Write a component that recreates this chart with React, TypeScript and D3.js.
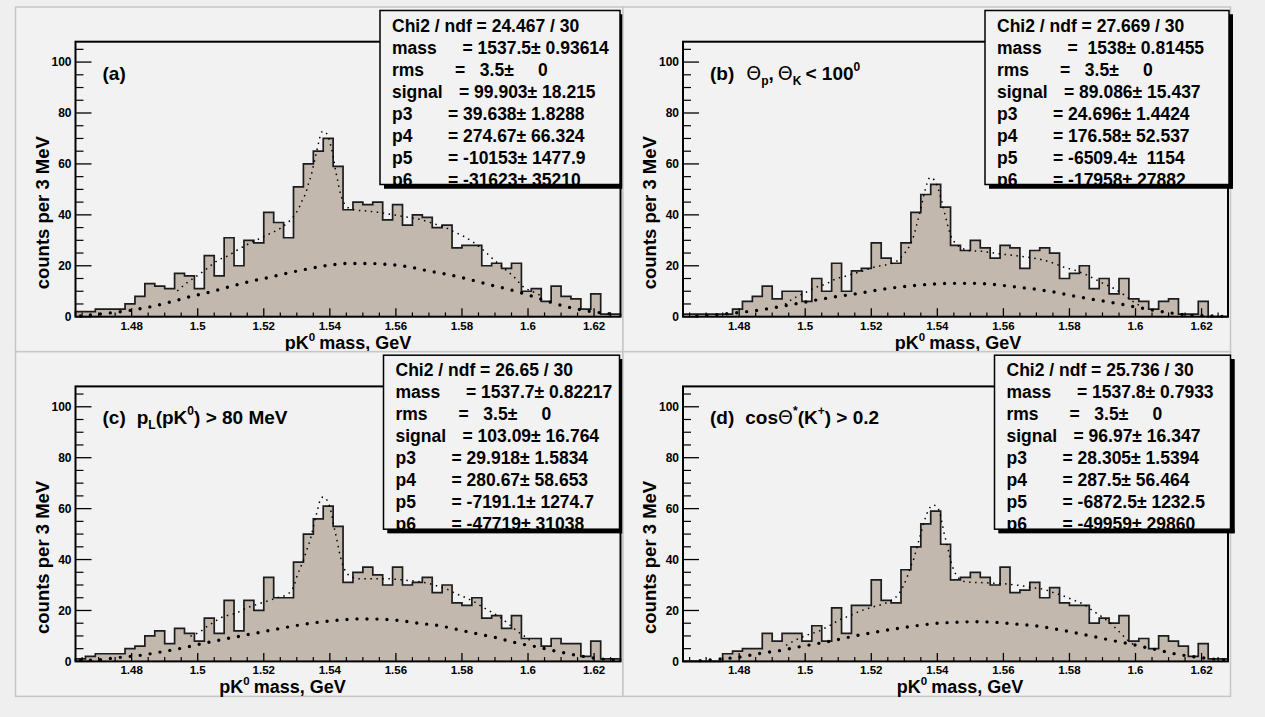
import * as d3 from 'd3'

// histogram binning (3 MeV bins) and axis ranges
const BIN_LO = 1.463
const BIN_W = 0.003
const X_MAX = 1.628
const Y_MAX = 108

// counts per bin
const countsA = [2,2,3,3,3,5,8,13,12,11,17,16,11,24,16,31,20,30,29,41,37,31,51,60,65,70,59,42,45,44,45,38,44,36,40,39,35,36,27,28,28,20,21,19,21,10,11,6,12,8,7,3,9,1,1]
const countsB = [1,1,1,1,1,3,6,8,12,7,10,10,6,15,10,21,10,18,19,29,23,21,29,41,48,52,43,28,26,30,27,23,28,27,19,26,27,25,15,17,20,11,15,9,15,7,6,3,6,7,1,1,6,0,0]
const countsC = [1,2,3,3,3,5,6,10,12,7,13,11,8,17,11,24,12,24,20,33,25,25,39,50,56,61,53,31,35,37,34,30,37,30,31,33,27,30,23,22,25,17,18,13,18,9,9,6,9,7,7,2,8,1,1]
const countsD = [0,0,0,0,3,4,5,5,11,8,11,11,8,14,8,21,11,22,22,32,24,23,36,45,54,59,46,32,33,35,33,30,37,27,28,31,25,29,23,22,22,15,17,15,18,8,9,5,10,8,6,2,7,1,1]

// fitted curves: total (fine dots) and background (bold dots), [mass GeV, counts]
const totA = [[1.4938,10.1],[1.4968,13.4],[1.4999,16.1],[1.5029,19],[1.5059,22],[1.509,23.8],[1.512,26.2],[1.5145,28],[1.5175,29.9],[1.521,32.1],[1.5251,34.8],[1.527,36.7],[1.529,39.3],[1.5306,42.6],[1.5317,45.9],[1.5327,48.5],[1.5336,52.5],[1.5344,55.7],[1.5351,59.7],[1.536,64.9],[1.5367,68.9],[1.5375,72.5],[1.5382,72.8],[1.539,72],[1.5397,70],[1.5405,66],[1.5411,62.3],[1.5418,57],[1.5423,53.8],[1.5433,47.9],[1.544,45.5],[1.5448,43.5],[1.5473,42],[1.5503,41.6],[1.5533,41.2],[1.5563,40.7],[1.5594,40],[1.5624,39.3],[1.5654,38.7],[1.5685,37.8],[1.5715,36.5],[1.5745,35.3],[1.5775,33.4],[1.5806,31.5],[1.5836,29.1],[1.5866,26],[1.5897,22.3],[1.5927,19],[1.5957,15.7],[1.5985,11.8],[1.6015,9.8],[1.6045,7.9]]
const bgA = [[1.4645,0.3],[1.4736,1.5],[1.4797,2.5],[1.4857,3.9],[1.4918,5.8],[1.4978,7.9],[1.504,9.8],[1.5097,11.8],[1.5157,13.8],[1.5218,15.5],[1.5278,17.3],[1.5339,18.9],[1.5397,20.2],[1.5457,20.9],[1.5518,20.9],[1.5578,20.5],[1.5639,19.6],[1.5697,18],[1.5757,16.6],[1.5818,14.8],[1.5879,12.7],[1.5939,10.8],[1.5997,8.7],[1.606,6],[1.6118,3.9],[1.6179,2.3],[1.6236,1.3],[1.6275,0.9]]

const totB = [[1.4939,4.9],[1.4969,7.5],[1.4999,9.4],[1.503,11.4],[1.5065,13],[1.5096,15],[1.5124,16],[1.5146,16.9],[1.5168,17.7],[1.5197,19],[1.5222,19.9],[1.5252,20.6],[1.5278,21.9],[1.5298,24.5],[1.5313,27.1],[1.5323,29.8],[1.533,32.4],[1.5338,36.3],[1.5346,40.3],[1.5353,44.2],[1.536,48.1],[1.5368,52],[1.5378,54.7],[1.5391,53.6],[1.5398,52],[1.5406,48.8],[1.5413,45.5],[1.5422,40.9],[1.5429,37],[1.5436,33.7],[1.5444,30.8],[1.5456,28.7],[1.5472,27.1],[1.55,25.9],[1.5525,25.8],[1.556,25.2],[1.5601,24.5],[1.5641,23.9],[1.5682,23.2],[1.5722,22.2],[1.5752,21],[1.5782,19.5],[1.5822,18],[1.5852,16.4],[1.5878,14.7],[1.5908,12.7],[1.5934,11.1],[1.5966,8.5],[1.599,6.2],[1.6015,4.2]]
const bgB = [[1.4672,0.3],[1.4734,0.8],[1.4795,1.6],[1.4855,2.5],[1.4916,3.8],[1.4974,5.1],[1.5035,6.6],[1.5096,7.9],[1.5154,9],[1.5215,10.4],[1.5275,11.5],[1.5336,12.3],[1.5396,12.9],[1.5456,13.1],[1.5517,13.1],[1.5575,12.6],[1.5636,11.7],[1.5697,10.8],[1.5757,9.6],[1.5818,8],[1.5876,6.7],[1.5936,5.4],[1.5997,3.9],[1.6055,2.5],[1.6116,1.3],[1.6176,0.5],[1.6237,0.3],[1.6267,0.1]]

const totC = [[1.4978,9.9],[1.5009,11.8],[1.5029,13.8],[1.5049,15.4],[1.5069,17.1],[1.5089,18],[1.5119,19.1],[1.515,21.1],[1.518,22.4],[1.5211,23.7],[1.5241,25],[1.5271,26.3],[1.5291,29.6],[1.5301,33.6],[1.5311,36.8],[1.5321,40.1],[1.5331,44.1],[1.5341,48],[1.5351,53.3],[1.5361,58.6],[1.5373,64],[1.538,64.6],[1.5387,64.1],[1.5397,61.8],[1.5404,58.6],[1.5412,53.3],[1.542,48.7],[1.5428,43.4],[1.5437,38.8],[1.5447,35.5],[1.5458,33.8],[1.5488,32.5],[1.5518,32.5],[1.5575,32.5],[1.5605,32.2],[1.5635,31.8],[1.5666,31.4],[1.5696,30.7],[1.5726,29.6],[1.5756,28.3],[1.5787,26.3],[1.5812,25],[1.5842,23],[1.5867,21],[1.5893,19.1],[1.5918,17.1],[1.5943,14.5],[1.5968,11.8],[1.5989,9.9],[1.6009,7.9]]
const bgC = [[1.4645,0.4],[1.4706,0.7],[1.4766,1.6],[1.4827,2.4],[1.4888,3.7],[1.4948,5.1],[1.5007,6.8],[1.5067,8.4],[1.5127,9.9],[1.5188,11.4],[1.5248,12.9],[1.5308,14.3],[1.5367,15.4],[1.5428,16.2],[1.5485,16.7],[1.5547,16.6],[1.5608,16.1],[1.5667,15],[1.5728,14.1],[1.5787,12.5],[1.5847,10.8],[1.5908,9.2],[1.5966,7.2],[1.6027,5.7],[1.6088,3.9],[1.6148,2.4],[1.6206,1.2],[1.6267,0.5]]

const totD = [[1.4942,6.3],[1.4974,8.6],[1.5009,10.5],[1.504,11.8],[1.507,13.8],[1.5106,16.4],[1.5136,18],[1.5166,19.7],[1.5197,21.1],[1.5232,22.4],[1.5262,24.1],[1.5282,26.3],[1.5297,29.6],[1.5308,32.9],[1.5318,36.8],[1.533,40.8],[1.5338,44.7],[1.5348,49.3],[1.5358,53.9],[1.5368,57.9],[1.5378,60.5],[1.5388,61.4],[1.5398,60.9],[1.5407,58.6],[1.5414,54.6],[1.5421,50],[1.5429,46.1],[1.5437,41.4],[1.5446,37.2],[1.5456,34.2],[1.5469,32.2],[1.5489,31.2],[1.5519,31],[1.5541,30.9],[1.5571,30.7],[1.5601,30.5],[1.5631,30.1],[1.5661,29.6],[1.5691,28.9],[1.5722,28.3],[1.5752,27],[1.5782,25.7],[1.5812,24.1],[1.5843,22.4],[1.5873,19.7],[1.5903,17.1],[1.5928,14.5],[1.5954,11.2],[1.5974,8.6],[1.5994,6.6]]
const bgD = [[1.4682,0.3],[1.474,0.9],[1.4801,1.7],[1.4861,3.1],[1.4921,4.2],[1.4981,5.7],[1.5042,7.1],[1.51,8.6],[1.5161,10.3],[1.5222,11.7],[1.5282,13],[1.5341,14.1],[1.5402,15],[1.5462,15.4],[1.5523,15.6],[1.5582,15.3],[1.5643,14.6],[1.5702,13.9],[1.5762,12.6],[1.5823,11.1],[1.5882,9.5],[1.5942,7.9],[1.6003,6.3],[1.6062,4.6],[1.6123,2.9],[1.6183,1.7],[1.6244,0.8],[1.6275,0.5]]

// axis ticks
const xTicks = [1.48, 1.5, 1.52, 1.54, 1.56, 1.58, 1.6, 1.62]
const xTickLabels = ['1.48', '1.5', '1.52', '1.54', '1.56', '1.58', '1.6', '1.62']
const yTicks = [0, 20, 40, 60, 80, 100]

// fit statistics boxes
const statNames = ['mass', 'rms', 'signal', 'p3', 'p4', 'p5', 'p6']
const chi2A = 'Chi2 / ndf = 24.467 / 30'
const chi2B = 'Chi2 / ndf = 27.669 / 30'
const chi2C = 'Chi2 / ndf = 26.65 / 30'
const chi2D = 'Chi2 / ndf = 25.736 / 30'
const statsA = ['= 1537.5± 0.93614', '=   3.5±     0', '= 99.903± 18.215', '= 39.638± 1.8288', '= 274.67± 66.324', '= -10153± 1477.9', '= -31623± 35210']
const statsB = ['=  1538± 0.81455', '=   3.5±     0', '= 89.086± 15.437', '= 24.696± 1.4424', '= 176.58± 52.537', '= -6509.4±  1154', '= -17958± 27882']
const statsC = ['= 1537.7± 0.82217', '=   3.5±     0', '= 103.09± 16.764', '= 29.918± 1.5834', '= 280.67± 58.653', '= -7191.1± 1274.7', '= -47719± 31038']
const statsD = ['= 1537.8± 0.7933', '=   3.5±     0', '= 96.97± 16.347', '= 28.305± 1.5394', '= 287.5± 56.464', '= -6872.5± 1232.5', '= -49959± 29860']

const xTitle = 'mass, GeV'
const yTitle = 'counts per 3 MeV'

// layout
const W = 1265
const H = 717
const PAD_X0 = 15.5
const PAD_Y0 = 7
const PAD_W = 607.5
const PAD_H = 344.7
const FRAME_L = 60
const FRAME_T = 34.7
const FRAME_W = 545
const FRAME_H = 275
const EQ_OFFSET = [70.5, 63, 67, 56, 56, 56, 56]
const FONT = '"Liberation Sans", Arial, Helvetica, sans-serif'
const PAGE_BG = '#efefef'
const PAD_BG = '#f2f2f2'
const HIST_FILL = '#c2b8ae'

const panels = [
  { id: 'a', col: 0, row: 0, counts: countsA, tot: totA, bg: bgA, chi2: chi2A, stats: statsA, boxX: 364.5, boxW: 240, titleCx: 272.5 },
  { id: 'b', col: 1, row: 0, counts: countsB, tot: totB, bg: bgB, chi2: chi2B, stats: statsB, boxX: 362, boxW: 244, titleCx: 275 },
  { id: 'c', col: 0, row: 1, counts: countsC, tot: totC, bg: bgC, chi2: chi2C, stats: statsC, boxX: 368, boxW: 236, titleCx: 207 },
  { id: 'd', col: 1, row: 1, counts: countsD, tot: totD, bg: bgD, chi2: chi2D, stats: statsD, boxX: 371.5, boxW: 236, titleCx: 277 },
]

function PanelLabel({ id, x, y }: { id: string; x: number; y: number }) {
  const sym = { fontFamily: '"DejaVu Sans", sans-serif', fontWeight: 'normal' as const }
  if (id === 'a') return <text x={x} y={y} fontSize={19}>(a)</text>
  if (id === 'b')
    return (
      <text x={x} y={y} fontSize={19}>
        <tspan>(b)</tspan>
        <tspan dx={12} style={sym}>Θ</tspan>
        <tspan fontSize={12} dy={5}>p</tspan>
        <tspan dy={-5}>,</tspan>
        <tspan dx={4} style={sym}>Θ</tspan>
        <tspan fontSize={12} dy={5}>K</tspan>
        <tspan dy={-5} dx={4}>{'< 100'}</tspan>
        <tspan fontSize={12} dy={-9}>0</tspan>
      </text>
    )
  if (id === 'c')
    return (
      <text x={x} y={y} fontSize={19}>
        <tspan>(c)</tspan>
        <tspan dx={11}>p</tspan>
        <tspan fontSize={12} dy={5}>L</tspan>
        <tspan dy={-5}>(pK</tspan>
        <tspan fontSize={12} dy={-9}>0</tspan>
        <tspan dy={9}>{') > 80 MeV'}</tspan>
      </text>
    )
  return (
    <text x={x} y={y} fontSize={19}>
      <tspan>(d)</tspan>
      <tspan dx={11}>cos</tspan>
      <tspan style={sym}>Θ</tspan>
      <tspan fontSize={12} dy={-9}>*</tspan>
      <tspan dy={9}>(K</tspan>
      <tspan fontSize={12} dy={-9}>+</tspan>
      <tspan dy={9}>{') > 0.2'}</tspan>
    </text>
  )
}

function Panel({ p }: { p: (typeof panels)[number] }) {
  const px = PAD_X0 + p.col * PAD_W
  const py = PAD_Y0 + p.row * PAD_H
  const fx = px + FRAME_L
  const fy = py + FRAME_T

  const x = d3.scaleLinear().domain([BIN_LO, X_MAX]).range([fx, fx + FRAME_W])
  const y = d3.scaleLinear().domain([0, Y_MAX]).range([fy + FRAME_H, fy])

  const n = p.counts.length
  const steps: [number, number][] = p.counts.map((c, i) => [BIN_LO + i * BIN_W, c] as [number, number])
  steps.push([BIN_LO + n * BIN_W, p.counts[n - 1]])

  const area = d3.area<[number, number]>()
    .x(d => x(d[0]))
    .y0(y(0))
    .y1(d => y(d[1]))
    .curve(d3.curveStepAfter)
  const outline = d3.line<[number, number]>()
    .x(d => x(d[0]))
    .y(d => y(d[1]))
    .curve(d3.curveStepAfter)
  const outlinePts: [number, number][] = [[BIN_LO, 0], ...steps, [BIN_LO + n * BIN_W, 0]]

  const fitLine = d3.line<number[]>()
    .x(d => x(d[0]))
    .y(d => y(d[1]))
    .curve(d3.curveMonotoneX)

  const xMinor = d3.range(1.465, X_MAX, 0.005).filter(v => Math.abs(((v - 1.48) / 0.02) - Math.round((v - 1.48) / 0.02)) > 0.01)
  const yMinor = d3.range(0, Y_MAX, 5).filter(v => v % 20 !== 0)

  const bx = px + p.boxX
  const by = py + 3.5
  const bh = 174
  const clipId = `clip-${p.id}`
  const tx = bx + 12

  return (
    <g>
      <rect x={px} y={py} width={PAD_W} height={PAD_H} fill={PAD_BG} stroke="#c6c6c6" strokeWidth={1.5} />

      <path d={area(steps) ?? ''} fill={HIST_FILL} />
      <path d={outline(outlinePts) ?? ''} fill="none" stroke="#1c1c1c" strokeWidth={1.7} />

      <path d={fitLine(p.bg) ?? ''} fill="none" stroke="#000" strokeWidth={3.4} strokeLinecap="round" strokeDasharray="0 10" />
      <path d={fitLine(p.tot) ?? ''} fill="none" stroke="#000" strokeWidth={1.5} strokeDasharray="1.5 4.5" />

      <rect x={fx} y={fy} width={FRAME_W} height={FRAME_H} fill="none" stroke="#000" strokeWidth={2} />

      {/* x axis */}
      {xTicks.map((t, i) => (
        <g key={t}>
          <line x1={x(t)} x2={x(t)} y1={y(0)} y2={y(0) - 8.5} stroke="#000" strokeWidth={1.3} />
          <text x={x(t)} y={y(0) + 13} fontSize={11.5} textAnchor="middle">{xTickLabels[i]}</text>
        </g>
      ))}
      {xMinor.map(t => (
        <line key={t} x1={x(t)} x2={x(t)} y1={y(0)} y2={y(0) - 4.3} stroke="#000" strokeWidth={1.2} />
      ))}

      {/* y axis */}
      {yTicks.map(t => (
        <g key={t}>
          <line x1={fx} x2={fx + 16} y1={y(t)} y2={y(t)} stroke="#000" strokeWidth={1.3} />
          <text x={fx - 4} y={y(t) + 4.2} fontSize={12} textAnchor="end">{t}</text>
        </g>
      ))}
      {yMinor.map(t => (
        <line key={t} x1={fx} x2={fx + 8} y1={y(t)} y2={y(t)} stroke="#000" strokeWidth={1.2} />
      ))}

      <text x={fx + p.titleCx} y={py + PAD_H - 3} fontSize={18} textAnchor="middle">
        <tspan>pK</tspan>
        <tspan fontSize={11.5} dy={-8}>0</tspan>
        <tspan dy={8} dx={4}>{xTitle}</tspan>
      </text>
      <text transform={`translate(${fx - 27},${fy + 171}) rotate(-90)`} fontSize={18.5} textAnchor="middle">{yTitle}</text>

      <PanelLabel id={p.id} x={fx + 27} y={fy + 38} />

      {/* fit statistics */}
      <clipPath id={clipId}>
        <rect x={bx} y={by} width={p.boxW} height={bh} />
      </clipPath>
      <rect x={bx + 4} y={by + 4} width={p.boxW} height={bh} fill="#000" />
      <rect x={bx} y={by} width={p.boxW} height={bh} fill={PAD_BG} stroke="#000" strokeWidth={1.5} />
      <g clipPath={`url(#${clipId})`} fontSize={17.5}>
        <text x={tx} y={by + 21}>{p.chi2}</text>
        {statNames.map((name, i) => (
          <text key={name} y={by + 21 + (i + 1) * 22} xmlSpace="preserve">
            <tspan x={tx}>{name}</tspan>
            <tspan x={tx + EQ_OFFSET[i]}>{p.stats[i]}</tspan>
          </text>
        ))}
      </g>
      <rect x={bx + p.boxW} y={by + 4} width={4} height={bh} fill="#000" />
      <rect x={bx + 4} y={by + bh} width={p.boxW} height={4} fill="#000" />
    </g>
  )
}

export default function App() {
  return (
    <svg
      width={W}
      height={H}
      style={{ position: 'absolute', left: 0, top: 0, display: 'block' }}
      fontFamily={FONT}
      fontWeight="bold"
    >
      <rect x={0} y={0} width={W} height={H} fill={PAGE_BG} />
      {panels.map(p => <Panel key={p.id} p={p} />)}
    </svg>
  )
}
